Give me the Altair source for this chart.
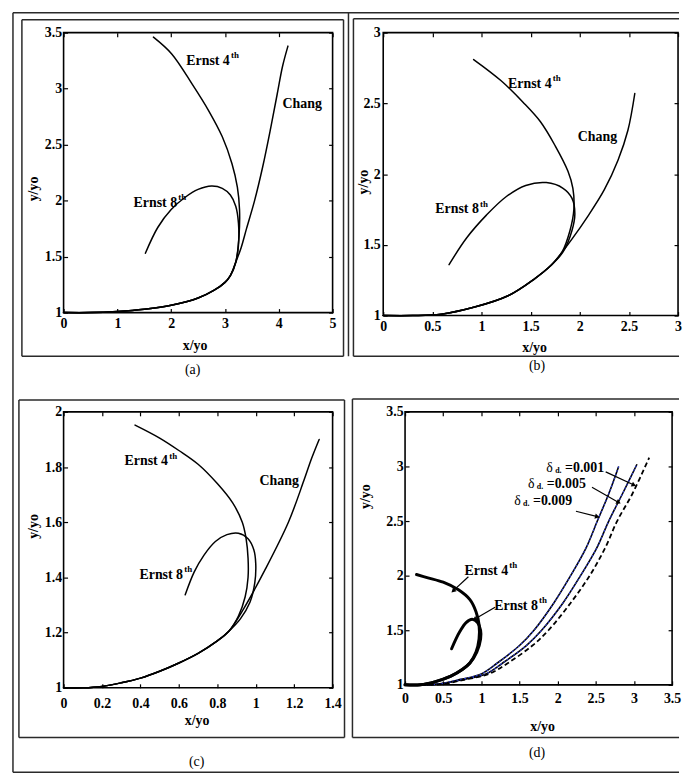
import math
import altair as alt
import pandas as pd

FONT = "Liberation Serif, Times New Roman, serif"

# ---------------- values ----------------
# (a)
A_LOW_X = [0.0, 0.5, 1.0, 1.5, 2.0, 2.5, 2.8, 3.0, 3.1]
A_LOW_Y = [1.0, 1.0, 1.01, 1.03, 1.065, 1.13, 1.2, 1.27, 1.33]
A_CHANG_X = [3.2, 3.3, 3.4, 3.55, 3.7, 3.85, 3.97, 4.07, 4.17]
A_CHANG_Y = [1.45, 1.58, 1.75, 2.0, 2.3, 2.65, 2.95, 3.2, 3.38]
A_E4_X = [3.2, 3.26, 3.27, 3.23, 3.13, 2.95, 2.70, 2.39, 2.01, 1.67]
A_E4_Y = [1.45, 1.68, 1.92, 2.12, 2.33, 2.57, 2.80, 3.04, 3.31, 3.46]
A_E8_X = [3.2, 3.25, 3.25, 3.2, 3.1, 2.95, 2.75, 2.5, 2.26, 2.0, 1.75, 1.52]
A_E8_Y = [1.45, 1.6, 1.8, 1.95, 2.05, 2.11, 2.13, 2.1, 2.03, 1.92, 1.76, 1.53]
A_XTICKS = [0, 1, 2, 3, 4, 5]
A_YTICKS = [1, 1.5, 2, 2.5, 3, 3.5]
A_LABEL_TEXT = ["Ernst 4", "Ernst 8", "Chang"]
A_LABEL_SUP = ["th", "th", ""]
A_LABEL_X = [2.28, 1.30, 4.07]
A_LABEL_Y = [3.25, 1.98, 2.86]

# (b)
B_LOW_X = [0.0, 0.3, 0.59, 0.93, 1.27, 1.54, 1.7]
B_LOW_Y = [1.0, 1.0, 1.01, 1.06, 1.14, 1.26, 1.35]
B_CHANG_X = [1.8, 1.92, 2.08, 2.25, 2.39, 2.49, 2.56]
B_CHANG_Y = [1.43, 1.54, 1.70, 1.89, 2.10, 2.31, 2.57]
B_E4_X = [1.82, 1.9, 1.94, 1.93, 1.88, 1.75, 1.6, 1.42, 1.2, 0.92]
B_E4_Y = [1.45, 1.6, 1.75, 1.9, 2.02, 2.2, 2.37, 2.51, 2.66, 2.81]
B_E8_X = [1.83, 1.92, 1.95, 1.92, 1.83, 1.66, 1.45, 1.25, 1.05, 0.85, 0.67]
B_E8_Y = [1.45, 1.6, 1.72, 1.83, 1.9, 1.94, 1.92, 1.84, 1.71, 1.55, 1.36]
B_XTICKS = [0, 0.5, 1, 1.5, 2, 2.5, 3]
B_YTICKS = [1, 1.5, 2, 2.5, 3]
B_LABEL_TEXT = ["Ernst 4", "Ernst 8", "Chang"]
B_LABEL_SUP = ["th", "th", ""]
B_LABEL_X = [1.27, 0.53, 1.98]
B_LABEL_Y = [2.64, 1.75, 2.26]

# (c)
C_LOW_X = [0.0, 0.1, 0.2, 0.3, 0.4, 0.5, 0.6, 0.7, 0.8, 0.86]
C_LOW_Y = [1.0, 1.0, 1.005, 1.018, 1.035, 1.06, 1.09, 1.125, 1.17, 1.205]
C_CHANG_X = [0.94, 1.05, 1.17, 1.25, 1.29, 1.33]
C_CHANG_Y = [1.29, 1.43, 1.6, 1.75, 1.83, 1.90]
C_E4_X = [0.91, 0.945, 0.96, 0.96, 0.95, 0.93, 0.88, 0.8, 0.7, 0.6, 0.5, 0.372]
C_E4_Y = [1.26, 1.33, 1.40, 1.47, 1.54, 1.6, 1.67, 1.74, 1.81, 1.86, 1.905, 1.952]
C_E8_X = [0.92, 0.97, 0.995, 1.0, 0.99, 0.96, 0.91, 0.85, 0.79, 0.73, 0.68, 0.633]
C_E8_Y = [1.25, 1.31, 1.38, 1.45, 1.5, 1.54, 1.56, 1.555, 1.53, 1.48, 1.42, 1.337]
C_XTICKS = [0, 0.2, 0.4, 0.6, 0.8, 1, 1.2, 1.4]
C_YTICKS = [1, 1.2, 1.4, 1.6, 1.8, 2]
C_LABEL_TEXT = ["Ernst 4", "Ernst 8", "Chang"]
C_LABEL_SUP = ["th", "th", ""]
C_LABEL_X = [0.317, 0.395, 1.02]
C_LABEL_Y = [1.82, 1.41, 1.75]

# (d)
D_LOW_X = [0.0, 0.2, 0.4, 0.6, 0.75, 0.85]
D_LOW_Y = [1.0, 1.0, 1.03, 1.08, 1.14, 1.2]
D_E4_X = [0.93, 0.97, 0.97, 0.93, 0.85, 0.7, 0.5, 0.3, 0.15]
D_E4_Y = [1.3, 1.42, 1.55, 1.67, 1.78, 1.87, 1.94, 1.98, 2.01]
D_E8_X = [0.94, 0.99, 0.99, 0.95, 0.88, 0.8, 0.72, 0.66, 0.61]
D_E8_Y = [1.3, 1.42, 1.5, 1.57, 1.6, 1.57, 1.49, 1.41, 1.33]
D_S1_X = [0.0, 0.4, 0.73, 1.0, 1.21, 1.5, 1.69, 1.95, 2.17, 2.37, 2.52, 2.67, 2.8]
D_S1_Y = [1.0, 1.005, 1.05, 1.1, 1.2, 1.36, 1.5, 1.75, 2.0, 2.25, 2.5, 2.75, 3.0]
D_S2_X = [0.0, 0.42, 0.77, 1.06, 1.28, 1.59, 1.79, 2.07, 2.3, 2.51, 2.67, 2.85, 3.04]
D_S2_Y = [1.0, 1.005, 1.05, 1.1, 1.2, 1.36, 1.5, 1.75, 2.0, 2.25, 2.5, 2.75, 3.02]
D_S3_X = [0.0, 0.45, 0.8, 1.1, 1.35, 1.67, 1.88, 2.17, 2.42, 2.62, 2.78, 2.98, 3.2]
D_S3_Y = [1.0, 1.005, 1.05, 1.1, 1.2, 1.36, 1.5, 1.75, 2.0, 2.25, 2.5, 2.75, 3.08]
D_XTICKS = [0, 0.5, 1, 1.5, 2, 2.5, 3, 3.5]
D_YTICKS = [1, 1.5, 2, 2.5, 3, 3.5]
D_LABEL_TEXT = ["Ernst 4", "Ernst 8"]
D_LABEL_SUP = ["th", "th"]
D_LABEL_X = [0.78, 1.17]
D_LABEL_Y = [2.04, 1.72]
D_DELTA_TEXT = ["=0.001", "=0.005", "=0.009"]
D_DELTA_X = [1.85, 1.61, 1.43]
D_DELTA_Y = [2.99, 2.84, 2.68]
D_ARROW_X1 = [2.63, 2.45, 2.24, 0.83, 1.18]
D_ARROW_Y1 = [2.95, 2.81, 2.59, 1.99, 1.71]
D_ARROW_X2 = [3.0, 2.80, 2.52, 0.63, 0.91]
D_ARROW_Y2 = [2.83, 2.67, 2.54, 1.86, 1.60]

# ---------------- helpers ----------------
BLANK = pd.DataFrame({"k": [0]})
INTERP = "catmull-rom"


def path(name, xs, ys):
    return pd.DataFrame({"s": [name] * len(xs), "x": xs, "y": ys, "i": list(range(len(xs)))})


def labels(texts, sups, xs, ys):
    return pd.DataFrame({"t": texts, "sup": sups, "x": xs, "y": ys})


def axis_common():
    return dict(grid=False, domain=False, tickSize=4, tickColor="black", tickWidth=1.2,
                labelFont=FONT, labelFontSize=14, labelFontWeight="bold", labelColor="black",
                labelFlush=False, labelOverlap=False, format="~g",
                titleFont=FONT, titleFontSize=14, titleFontWeight="bold", titleColor="black")


def make_panel(curves, xdom, xticks, ydom, yticks, w, h, xlab_pad, ylab_pad,
               xt, yt, lab_df, segs, tag, tag_xy, extra_fn=None, line_w=1.5):
    xs = alt.Scale(domain=xdom, nice=False, zero=False)
    ys = alt.Scale(domain=ydom, nice=False, zero=False)
    ax = axis_common()
    xaxis = alt.Axis(orient="bottom", values=xticks, offset=-4, labelPadding=xlab_pad,
                     title="x/yo", titleX=xt[0], titleY=xt[1], titleAngle=0,
                     titleBaseline="middle", titleAlign="center", **ax)
    yaxis = alt.Axis(orient="left", values=yticks, offset=-4, labelPadding=ylab_pad,
                     title="y/yo", titleX=yt[0], titleY=yt[1], titleAngle=270,
                     titleBaseline="middle", titleAlign="center", **ax)
    lines = alt.Chart(curves).mark_line(color="black", strokeWidth=line_w, strokeCap="round",
                                        strokeJoin="round", interpolate=INTERP).encode(
        x=alt.X("x:Q", scale=xs, axis=xaxis),
        y=alt.Y("y:Q", scale=ys, axis=yaxis),
        detail="s:N", order="i:Q")
    tax = dict(grid=False, domain=False, labels=False, tickSize=4, tickColor="black",
               tickWidth=1.2, title=None, offset=-4)
    ticks = alt.Chart(curves).mark_point(opacity=0).encode(
        x=alt.X("x:Q", scale=xs, axis=alt.Axis(orient="top", values=xticks, **tax)),
        y=alt.Y("y:Q", scale=ys, axis=alt.Axis(orient="right", values=yticks, **tax)))
    txt = alt.Chart(lab_df).mark_text(font=FONT, fontSize=14, fontWeight="bold", align="left",
                                      baseline="middle", color="black").encode(
        x=alt.X("x:Q", scale=xs, axis=None), y=alt.Y("y:Q", scale=ys, axis=None), text="t:N")
    sup = alt.Chart(lab_df).transform_filter("datum.sup != ''").mark_text(
        font=FONT, fontSize=9, fontWeight="bold", align="left", baseline="middle",
        dx=45, dy=-6, color="black").encode(
        x=alt.X("x:Q", scale=xs, axis=None), y=alt.Y("y:Q", scale=ys, axis=None), text="sup:N")
    layers = [lines, ticks, txt, sup]
    if extra_fn is not None:
        layers += extra_fn(xs, ys, w, h)
    for (x1, y1, x2, y2) in segs:
        layers.append(alt.Chart(BLANK).mark_rule(color="#2a2a2a", strokeWidth=1.5).encode(
            x=alt.value(x1), y=alt.value(y1), x2=alt.value(x2), y2=alt.value(y2)))
    layers.append(alt.Chart(BLANK).mark_text(font=FONT, fontSize=14, color="black").encode(
        x=alt.value(tag_xy[0]), y=alt.value(tag_xy[1]), text=alt.value(tag)))
    return alt.layer(*layers).resolve_axis(x="independent", y="independent").properties(
        width=w, height=h)


def box(x1, y1, x2, y2):
    return [(x1, y1, x2, y1), (x1, y2, x2, y2), (x1, y1, x1, y2), (x2, y1, x2, y2)]


# ---------------- panels ----------------
a_curves = pd.concat([
    path("chang", A_LOW_X + A_CHANG_X, A_LOW_Y + A_CHANG_Y),
    path("e4", A_LOW_X + A_E4_X, A_LOW_Y + A_E4_Y),
    path("e8", A_LOW_X + A_E8_X, A_LOW_Y + A_E8_Y)])
pa = make_panel(a_curves, [0, 5], A_XTICKS, [1, 3.5], A_YTICKS, 271, 282, 4, 2,
                (132, 37), (-34, 157),
                labels(A_LABEL_TEXT, A_LABEL_SUP, A_LABEL_X, A_LABEL_Y),
                box(-42, -13, 282, 326) + [(-51, -20, 620, -20), (-51, -20, -51, 745),
                                           (287, -20, 287, 326)],
                "(a)", (130, 340))

b_curves = pd.concat([
    path("chang", B_LOW_X + B_CHANG_X, B_LOW_Y + B_CHANG_Y),
    path("e4", B_LOW_X + B_E4_X, B_LOW_Y + B_E4_Y),
    path("e8", B_LOW_X + B_E8_X, B_LOW_Y + B_E8_Y)])
pb = make_panel(b_curves, [0, 3], B_XTICKS, [1, 3], B_YTICKS, 297, 285, 4, 3,
                (152, 36), (-24, 150),
                labels(B_LABEL_TEXT, B_LABEL_SUP, B_LABEL_X, B_LABEL_Y),
                [(-30, -14, 298, -14), (-30, 326, 298, 326), (-30, -14, -30, 326)],
                "(b)", (155, 336))

c_curves = pd.concat([
    path("chang", C_LOW_X + C_CHANG_X, C_LOW_Y + C_CHANG_Y),
    path("e4", C_LOW_X + C_E4_X, C_LOW_Y + C_E4_Y),
    path("e8", C_LOW_X + C_E8_X, C_LOW_Y + C_E8_Y)])
pc = make_panel(c_curves, [0, 1.4], C_XTICKS, [1, 2], C_YTICKS, 271, 278, 9, 2,
                (134, 37), (-34, 115),
                labels(C_LABEL_TEXT, C_LABEL_SUP, C_LABEL_X, C_LABEL_Y),
                box(-45, -12, 283, 328) + [(-51, 363, 620, 363)],
                "(c)", (134, 353))


def d_extra(xs, ys, w, h):
    s12 = pd.concat([path("s1", D_S1_X, D_S1_Y), path("s2", D_S2_X, D_S2_Y)])
    s3 = path("s3", D_S3_X, D_S3_Y)
    enc = dict(x=alt.X("x:Q", scale=xs, axis=None), y=alt.Y("y:Q", scale=ys, axis=None),
               detail="s:N", order="i:Q")
    out = [
        alt.Chart(s12).mark_line(color="black", strokeWidth=1.6,
                                 interpolate=INTERP).encode(**enc),
        alt.Chart(s12).mark_line(color="#2b3bd6", strokeWidth=1.1, strokeDash=[2, 2],
                                 interpolate=INTERP).encode(**enc),
        alt.Chart(s3).mark_line(color="black", strokeWidth=1.8, strokeDash=[5, 3],
                                interpolate=INTERP).encode(**enc),
        alt.Chart(pd.concat([path("e4", D_LOW_X + D_E4_X, D_LOW_Y + D_E4_Y),
                             path("e8", D_LOW_X + D_E8_X, D_LOW_Y + D_E8_Y)])).mark_line(
            color="black", strokeWidth=3, strokeCap="round",
            interpolate=INTERP).encode(**enc),
    ]
    dl = pd.DataFrame({"t": D_DELTA_TEXT, "x": D_DELTA_X, "y": D_DELTA_Y})
    denc = dict(x=alt.X("x:Q", scale=xs, axis=None), y=alt.Y("y:Q", scale=ys, axis=None))
    out.append(alt.Chart(dl).mark_text(font=FONT, fontSize=14, align="left", baseline="middle",
                                       color="black").encode(text=alt.value("δ"), **denc))
    out.append(alt.Chart(dl).mark_text(font=FONT, fontSize=8, fontWeight="bold", align="left",
                                       baseline="middle", dx=9, dy=3, color="black").encode(
        text=alt.value("d."), **denc))
    out.append(alt.Chart(dl).mark_text(font=FONT, fontSize=14, fontWeight="bold", align="left",
                                       baseline="middle", dx=19, color="black").encode(
        text="t:N", **denc))
    xspan = xs.domain[1] - xs.domain[0]
    yspan = ys.domain[1] - ys.domain[0]
    ang = []
    for x1, y1, x2, y2 in zip(D_ARROW_X1, D_ARROW_Y1, D_ARROW_X2, D_ARROW_Y2):
        dxp = (x2 - x1) * w / xspan
        dyp = -(y2 - y1) * h / yspan
        ang.append(math.degrees(math.atan2(dyp, dxp)) % 360)
    arr = pd.DataFrame({"x1": D_ARROW_X1, "y1": D_ARROW_Y1, "x2": D_ARROW_X2,
                        "y2": D_ARROW_Y2, "a": ang})
    out.append(alt.Chart(arr).mark_rule(color="black", strokeWidth=1.2).encode(
        x=alt.X("x1:Q", scale=xs, axis=None), x2="x2:Q",
        y=alt.Y("y1:Q", scale=ys, axis=None), y2="y2:Q"))
    out.append(alt.Chart(arr).mark_point(shape="triangle-right", filled=True, size=28,
                                         color="black", opacity=1).encode(
        x=alt.X("x2:Q", scale=xs, axis=None), y=alt.Y("y2:Q", scale=ys, axis=None),
        angle=alt.Angle("a:Q", scale=None)))
    return out


pdd = make_panel(pd.DataFrame({"s": ["n"], "x": [0.0], "y": [1.0], "i": [0]}),
                 [0, 3.5], D_XTICKS, [1, 3.5], D_YTICKS, 269, 275, 7, 2,
                 (138, 46), (-44, 85),
                 labels(D_LABEL_TEXT, D_LABEL_SUP, D_LABEL_X, D_LABEL_Y),
                 [(-53, -13, 276, -13), (-53, 328, 276, 328), (-53, -13, -53, 328)],
                 "(d)", (133, 344), extra_fn=d_extra)

row1 = alt.hconcat(pa, pb, spacing=51, bounds="flush")
row2 = alt.hconcat(pc, pdd, spacing=73, bounds="flush")
chart = alt.vconcat(row1, row2, spacing=382, bounds="flush").properties(
    padding={"left": 3, "top": 0, "right": 0, "bottom": 0}
).configure_view(stroke="black", strokeWidth=1.6)

chart.save("out.html", embed_options={"renderer": "svg", "actions": False})
